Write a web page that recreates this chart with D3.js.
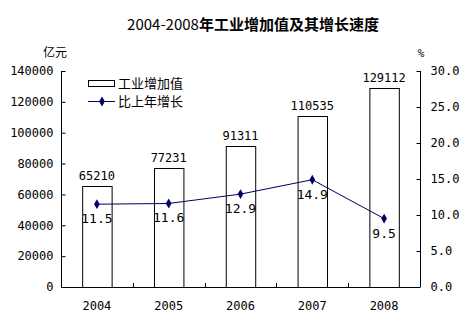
<!DOCTYPE html>
<html>
<head>
<meta charset="utf-8">
<script src="https://cdn.jsdelivr.net/npm/d3@7"></script>
<style>
  html, body { margin: 0; padding: 0; background: #fff; }
  svg { display: block; }
  text { font-family: "DejaVu Sans Mono", monospace; font-size: 12px; fill: #000; }
  .cjk { font-family: "Noto Sans CJK SC", sans-serif; }
</style>
</head>
<body>
<svg id="chart" width="467" height="325"></svg>
<script>
// Industrial value added (100 million yuan) and growth over previous year (%)
const years = ["2004", "2005", "2006", "2007", "2008"];
const valueAdded = [65210, 77231, 91311, 110535, 129112];
const growth = [11.5, 11.6, 12.9, 14.9, 9.5];
const leftTicks = [0, 20000, 40000, 60000, 80000, 100000, 120000, 140000];
const rightTicks = [0, 5, 10, 15, 20, 25, 30];

const svg = d3.select("#chart");
const m = { left: 61, right: 420, top: 71, bottom: 287 };

const x = d3.scaleBand().domain(years).range([m.left, m.right]).paddingInner(0).paddingOuter(0);
const yL = d3.scaleLinear().domain([0, 140000]).range([m.bottom, m.top]);
const yR = d3.scaleLinear().domain([0, 30]).range([m.bottom, m.top]);

const barW = x.bandwidth() * 0.41;

// Title: year range in regular weight, the rest bold
const title = svg.append("text").attr("x", 253).attr("y", 30).attr("text-anchor", "middle")
  .style("font-size", "15px");
title.append("tspan").attr("class", "cjk").style("font-family", "Noto Sans CJK SC").text("2004-2008");
title.append("tspan").attr("class", "cjk").style("font-weight", "bold").text("年工业增加值及其增长速度");

// Unit labels
svg.append("text").attr("class", "cjk").attr("x", 55).attr("y", 57).attr("text-anchor", "middle")
  .style("font-size", "12px").text("亿元");
svg.append("text").attr("x", 421).attr("y", 57).attr("text-anchor", "middle")
  .style("font-size", "11px").text("%");

// Bars
svg.append("g").selectAll("rect").data(years).join("rect")
  .attr("x", d => x(d) + x.bandwidth() / 2 - barW / 2 + 0.5)
  .attr("y", (d, i) => Math.round(yL(valueAdded[i])) + 0.5)
  .attr("width", barW)
  .attr("height", (d, i) => m.bottom - Math.round(yL(valueAdded[i])))
  .attr("fill", "#fff").attr("stroke", "#000").attr("stroke-width", 1);

// Bar value labels
svg.append("g").selectAll("text").data(years).join("text")
  .attr("x", d => x(d) + x.bandwidth() / 2)
  .attr("y", (d, i) => yL(valueAdded[i]) - 6)
  .attr("text-anchor", "middle")
  .text((d, i) => valueAdded[i]);

// Axes
const axL = d3.axisLeft(yL).tickValues(leftTicks).tickSize(-4).tickPadding(8).tickFormat(d3.format("d"));
const gL = svg.append("g").attr("transform", `translate(${m.left + 0.5},0)`).call(axL);
const axR = d3.axisRight(yR).tickValues(rightTicks).tickSize(-4).tickPadding(10).tickFormat(d3.format(".1f"));
const gR = svg.append("g").attr("transform", `translate(${m.right + 0.5},0)`).call(axR);
const axB = d3.axisBottom(x).tickSize(0).tickPadding(14);
const gB = svg.append("g").attr("transform", `translate(0,${m.bottom + 0.5})`).call(axB);
// category separators pointing up from the baseline
svg.append("g").selectAll("line").data(years.slice(1)).join("line")
  .attr("x1", d => Math.round(x(d)) + 0.5).attr("x2", d => Math.round(x(d)) + 0.5)
  .attr("y1", m.bottom).attr("y2", m.bottom - 4)
  .attr("stroke", "#000");

[gL, gR, gB].forEach(g => {
  g.select(".domain").attr("stroke", "#000");
  g.selectAll(".tick line").attr("stroke", "#000");
  g.selectAll(".tick text").style("font-family", "DejaVu Sans Mono").style("font-size", "12px").attr("fill", "#000");
});
gR.select(".domain").attr("d", `M0,${m.top}H0V${m.bottom}H0`);
gL.select(".domain").attr("d", `M0,${m.top}H0V${m.bottom}H0`);
gB.select(".domain").attr("d", `M${m.left},0H${m.right}`);

// Growth line
const cx = d => x(d) + x.bandwidth() / 2;
const line = d3.line().x((d, i) => cx(years[i])).y(d => yR(d));
svg.append("path").datum(growth).attr("d", line)
  .attr("fill", "none").attr("stroke", "#000066").attr("stroke-width", 1);

const diamond = d3.symbol().type(d3.symbolDiamond).size(28);
svg.append("g").selectAll("path").data(growth).join("path")
  .attr("d", diamond)
  .attr("transform", (d, i) => `translate(${cx(years[i])},${yR(d)})`)
  .attr("fill", "#000066");

svg.append("g").selectAll("text").data(growth).join("text")
  .attr("x", (d, i) => cx(years[i]))
  .attr("y", d => yR(d) + 19)
  .attr("text-anchor", "middle")
  .style("font-size", "13px")
  .text(d => d.toFixed(1));

// Legend
const lg = svg.append("g");
lg.append("rect").attr("x", 88.5).attr("y", 80.5).attr("width", 26).attr("height", 6)
  .attr("fill", "#fff").attr("stroke", "#000");
lg.append("text").attr("class", "cjk").attr("x", 118).attr("y", 88).style("font-size", "13px").text("工业增加值");
lg.append("line").attr("x1", 88).attr("x2", 115).attr("y1", 101.5).attr("y2", 101.5).attr("stroke", "#000066");
lg.append("path").attr("d", diamond).attr("transform", "translate(102,101.5)").attr("fill", "#000066");
lg.append("text").attr("class", "cjk").attr("x", 118).attr("y", 106).style("font-size", "13px").text("比上年增长");
</script>
</body>
</html>
